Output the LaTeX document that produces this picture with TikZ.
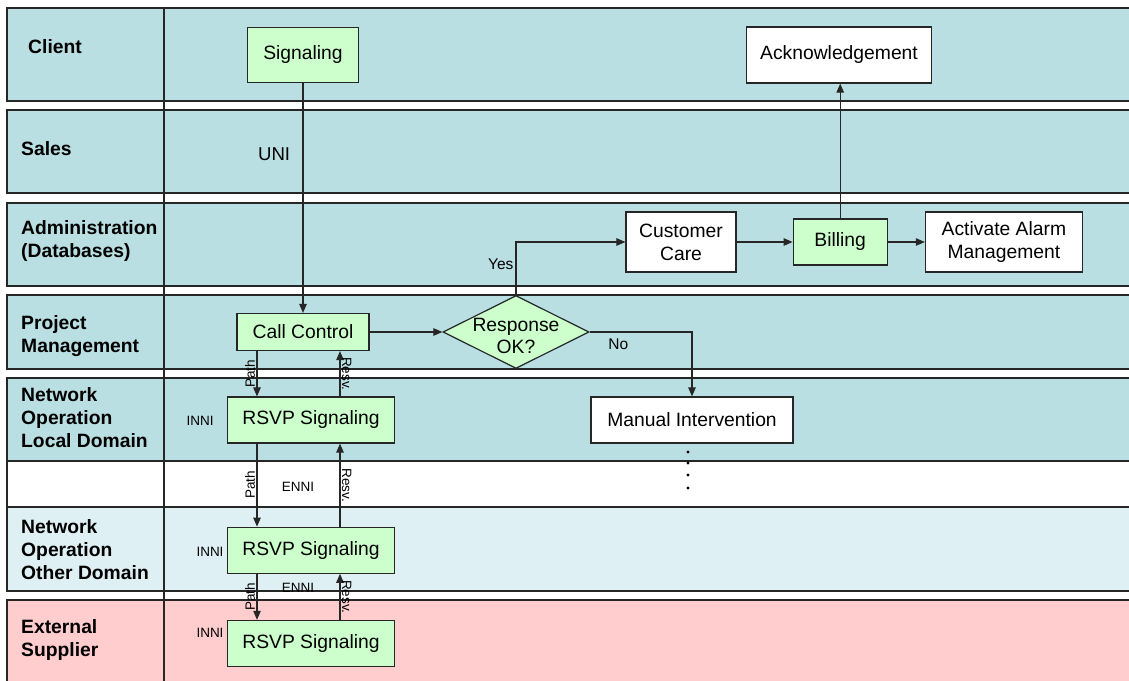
\documentclass[tikz,border=0pt]{standalone}
\usepackage{fontspec}
\setmainfont{Liberation Sans}
\usetikzlibrary{arrows.meta, positioning, shapes.geometric}

\definecolor{laneblue}{RGB}{186,223,227}
\definecolor{lanepale}{RGB}{222,240,244}
\definecolor{lanepink}{RGB}{255,205,205}
\definecolor{boxgreen}{RGB}{204,255,204}

\begin{document}
\begin{tikzpicture}[
    x=1pt, y=-1pt,
    lane/.style={draw=black!85, line width=1.3pt},
    lanetitle/.style={anchor=west, align=left, inner sep=0pt, font=\fontsize{19.3}{23}\selectfont\bfseries},
    block/.style={rectangle, draw=black!85, fill=white, line width=1.2pt, align=center, inner sep=0pt, font=\fontsize{19.3}{23}\selectfont},
    greenblock/.style={block, fill=boxgreen},
    lab/.style={font=\fontsize{13.5}{15}\selectfont, inner sep=1.5pt},
    answer/.style={font=\fontsize{15.5}{17}\selectfont, inner sep=2pt},
    arrow/.style={-{Triangle[length=9pt, width=7.5pt]}, line width=1.1pt, draw=black!85}
]
\useasboundingbox (0,0) rectangle (1129,680);

% Swim lanes
\draw [lane, fill=laneblue] (7,8) rectangle (1140,101);
\draw [lane, fill=laneblue] (7,110) rectangle (1140,193);
\draw [lane, fill=laneblue] (7,203) rectangle (1140,286);
\draw [lane, fill=laneblue] (7,295) rectangle (1140,369);
\draw [lane, fill=laneblue] (7,378) rectangle (1140,461);
\draw [lane, fill=white] (7,461) rectangle (1140,507);
\draw [lane, fill=lanepale] (7,507) rectangle (1140,591);
\draw [lane, fill=lanepink] (7,600) rectangle (1140,690);
\draw [line width=2pt, black!85] (7,8) -- (1140,8);
\draw [lane] (164,8) -- (164,690);

% Lane titles
\node [lanetitle] (tclient) at (28,47) {Client};
\node [lanetitle] (tsales) at (21,149) {Sales};
\node [lanetitle] (tadmin) at (21,241) {Administration\\(Databases)};
\node [lanetitle] (tproject) at (21,336) {Project\\Management};
\node [lanetitle] (tlocal) at (21,418) {Network\\Operation\\Local Domain};
\node [lanetitle] (tother) at (21,550) {Network\\Operation\\Other Domain};
\node [lanetitle] (tsupplier) at (21,640) {External\\Supplier};

% Top lanes
\node [greenblock, minimum width=111pt, minimum height=55pt] (signal) at (303,55) {Signaling};
\node [block, minimum width=185pt, minimum height=56pt] (ack) at (839,55) {Acknowledgement};

% Administration
\node [block, minimum width=110pt, minimum height=60pt] (care) at (681,242) {Customer\\Care};
\node [greenblock, minimum width=94pt, minimum height=46pt, right=56pt of care] (billing) {Billing};
\node [block, minimum width=157pt, minimum height=60pt, right=37pt of billing] (alarm) {Activate Alarm\\Management};

% Project management
\node [greenblock, minimum width=132pt, minimum height=37pt] (call) at (303,332) {Call Control};
\node [diamond, draw=black!85, fill=boxgreen, line width=1.2pt, inner sep=0pt,
       minimum width=146pt, minimum height=73pt,
       label={[font=\fontsize{19.3}{22}\selectfont, align=center, yshift=-4pt]center:Response\\OK?}] (resp) at (516,332) {};

% Network operation
\node [greenblock, minimum width=167pt, minimum height=46pt] (rsvpA) at (311,420) {RSVP Signaling};
\node [greenblock, minimum width=167pt, minimum height=46pt, below=83pt of rsvpA] (rsvpB) {RSVP Signaling};
\node [greenblock, minimum width=167pt, minimum height=46pt, below=46pt of rsvpB] (rsvpC) {RSVP Signaling};
\node [block, minimum width=202pt, minimum height=46pt] (manual) at (692,420) {Manual Intervention};

% Interface labels
\node [lab] (inniA) at (200,421) {INNI};
\node [lab] (inniB) at (210,552) {INNI};
\node [lab] (inniC) at (210,633) {INNI};
\node [lab] (enniA) at (298,487) {ENNI};
\node [lab] (enniB) at (298,588) {ENNI};

% Arrows
\coordinate (pathx) at (257,0);
\coordinate (resvx) at (340,0);
\draw [arrow] (signal.south) -- (signal.south |- call.north)
    node [pos=0.31, left=9pt, font=\fontsize{18.6}{20}\selectfont] {UNI};
\draw [arrow] (call) -- (resp);
\draw [arrow] (resp.north) |- (care) node [answer, pos=0.29, left] {Yes};
\draw [arrow] (resp.east) -| (manual.north) node [answer, pos=0.14, below=4pt] {No};
\draw [arrow] (care) -- (billing);
\draw [arrow] (billing) -- (alarm);
\draw [arrow] (billing.north) -- (billing.north |- ack.south);

\draw [arrow] (call.south -| pathx) -- (rsvpA.north -| pathx)
    node [lab, midway, rotate=90, anchor=south] {Path};
\draw [arrow] (rsvpA.north -| resvx) -- (call.south -| resvx)
    node [lab, midway, rotate=-90, anchor=south] {Resv.};
\draw [arrow] (rsvpA.south -| pathx) -- (rsvpB.north -| pathx)
    node [lab, midway, rotate=90, anchor=south] {Path};
\draw [arrow] (rsvpB.north -| resvx) -- (rsvpA.south -| resvx)
    node [lab, midway, rotate=-90, anchor=south] {Resv.};
\draw [arrow] (rsvpB.south -| pathx) -- (rsvpC.north -| pathx)
    node [lab, midway, rotate=90, anchor=south] {Path};
\draw [arrow] (rsvpC.north -| resvx) -- (rsvpB.south -| resvx)
    node [lab, midway, rotate=-90, anchor=south] {Resv.};

% Continuation dots
\foreach \y in {452,463,475,488}
    \fill (688,\y) circle (1.6pt);

\end{tikzpicture}
\end{document}
